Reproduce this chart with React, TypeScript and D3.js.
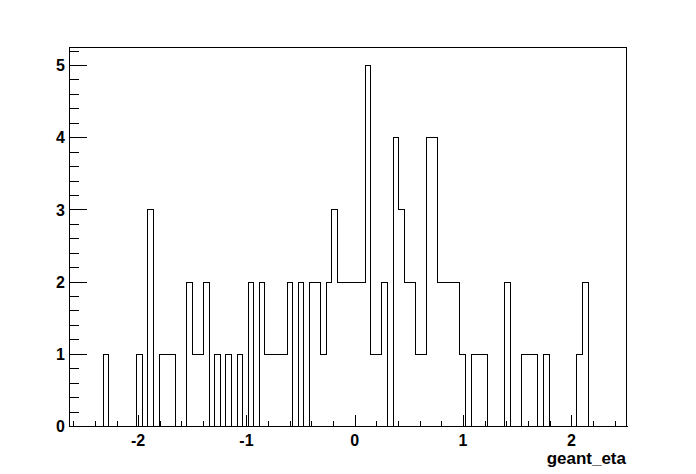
import React, { useEffect, useRef } from 'react';
import * as d3 from 'd3';

// histogram: 100 bins over the eta range
const xMin = -2.634;
const xMax = 2.509;
const nBins = 100;
const yMax = 5.25;

// non-empty bins, [bin index, entries]
const filledBins: [number, number][] = [
  [6, 1], [12, 1], [14, 3], [16, 1], [17, 1], [18, 1],
  [21, 2], [22, 1], [23, 1], [24, 2], [26, 1], [28, 1], [30, 1],
  [32, 2], [34, 2], [35, 1], [36, 1], [37, 1], [38, 1], [39, 2],
  [41, 2], [43, 2], [44, 2], [45, 1], [46, 2], [47, 3],
  [48, 2], [49, 2], [50, 2], [51, 2], [52, 2], [53, 5], [54, 1], [55, 1],
  [56, 2], [58, 4], [59, 3], [60, 2], [61, 2], [62, 1], [63, 1],
  [64, 4], [65, 4], [66, 2], [67, 2], [68, 2], [69, 2], [70, 1],
  [72, 1], [73, 1], [74, 1], [78, 2], [81, 1], [82, 1], [83, 1],
  [85, 1], [91, 1], [92, 2],
];

const xMajorTicks = [-2, -1, 0, 1, 2];
const yMajorTicks = [0, 1, 2, 3, 4, 5];
const xTitle = 'geant_eta';

const W = 696;
const H = 474;
const frame = { left: 69.5, right: 626.5, top: 47.5, bottom: 426.5 };

export default function App() {
  const svgRef = useRef<SVGSVGElement>(null);

  useEffect(() => {
    if (!svgRef.current) return;
    const svg = d3.select(svgRef.current);
    svg.selectAll('*').remove();

    const counts = new Array(nBins).fill(0);
    filledBins.forEach(([i, c]) => { counts[i] = c; });
    const bw = (xMax - xMin) / nBins;

    const x = d3.scaleLinear().domain([xMin, xMax]).range([frame.left, frame.right]);
    const y = d3.scaleLinear().domain([0, yMax]).range([frame.bottom, frame.top]);

    svg.append('rect')
      .attr('width', W).attr('height', H).attr('fill', '#fff');

    // step outline
    const pts: [number, number][] = [[xMin, 0]];
    counts.forEach((c, i) => {
      pts.push([xMin + i * bw, c]);
      pts.push([xMin + (i + 1) * bw, c]);
    });
    pts.push([xMax, 0]);
    const line = d3.line<[number, number]>()
      .x(d => Math.round(x(d[0])) + 0.5)
      .y(d => Math.round(y(d[1]) - 0.5) + 0.5);
    svg.append('path')
      .datum(pts)
      .attr('d', line)
      .attr('fill', 'none')
      .attr('stroke', '#000')
      .attr('stroke-width', 1)
      .attr('shape-rendering', 'crispEdges');

    // frame
    svg.append('rect')
      .attr('x', frame.left).attr('y', frame.top)
      .attr('width', frame.right - frame.left)
      .attr('height', frame.bottom - frame.top)
      .attr('fill', 'none').attr('stroke', '#000')
      .attr('shape-rendering', 'crispEdges');

    const ticks = svg.append('g')
      .attr('stroke', '#000').attr('shape-rendering', 'crispEdges');

    // x ticks, every 0.2
    d3.range(-26, 25, 2).map(v => v / 10).forEach(v => {
      if (v < xMin || v > xMax) return;
      const major = Math.abs(v - Math.round(v)) < 1e-6;
      const px = Math.round(x(v)) + 0.5;
      ticks.append('line')
        .attr('x1', px).attr('x2', px)
        .attr('y1', frame.bottom).attr('y2', frame.bottom - (major ? 11.5 : 5.7));
    });

    // y ticks, every 0.2
    d3.range(0, 27, 1).map(v => v / 5).forEach(v => {
      if (v > yMax) return;
      const major = Math.abs(v - Math.round(v)) < 1e-6;
      const py = Math.round(y(v) - 0.5) + 0.5;
      ticks.append('line')
        .attr('x1', frame.left).attr('x2', frame.left + (major ? 17 : 9))
        .attr('y1', py).attr('y2', py);
    });

    const font = '"Liberation Sans", Arial, Helvetica, sans-serif';

    svg.append('g').selectAll('text')
      .data(xMajorTicks)
      .join('text')
      .attr('x', d => x(d))
      .attr('y', 446)
      .attr('text-anchor', 'middle')
      .attr('font-family', font)
      .attr('font-weight', 'bold')
      .attr('font-size', 16)
      .text(d => String(d));

    svg.append('g').selectAll('text')
      .data(yMajorTicks)
      .join('text')
      .attr('x', 65)
      .attr('y', d => y(d))
      .attr('dy', '0.36em')
      .attr('text-anchor', 'end')
      .attr('font-family', font)
      .attr('font-weight', 'bold')
      .attr('font-size', 16)
      .text(d => String(d));

    svg.append('text')
      .attr('x', 626)
      .attr('y', 464)
      .attr('text-anchor', 'end')
      .attr('font-family', font)
      .attr('font-weight', 'bold')
      .attr('font-size', 17)
      .text(xTitle);
  }, []);

  return (
    <svg
      ref={svgRef}
      width={W}
      height={H}
      style={{ position: 'absolute', left: 0, top: 0, display: 'block' }}
    />
  );
}
